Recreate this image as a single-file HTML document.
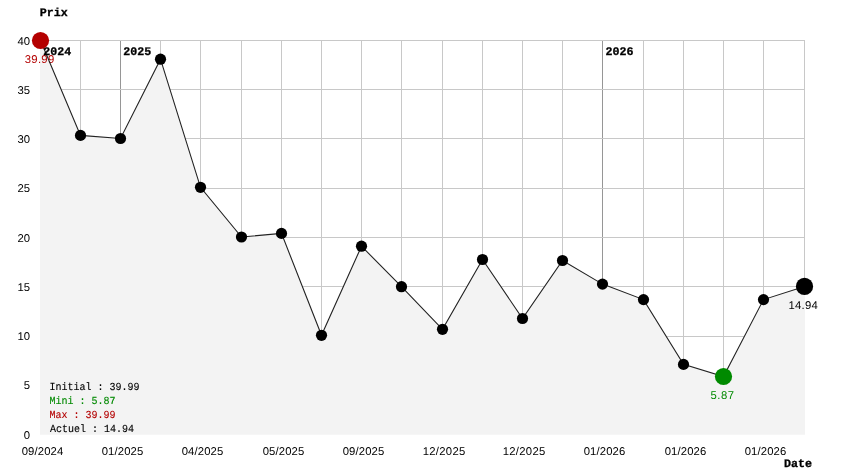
<!DOCTYPE html>
<html><head><meta charset="utf-8"><style>
html,body{margin:0;padding:0;background:#fff;}
svg{display:block;will-change:transform;}
text{font-family:"Liberation Sans",sans-serif;text-rendering:geometricPrecision;}
.ax{font-size:11.3px;fill:#000;}
.mono{font-family:"Liberation Mono",monospace;font-size:10px;}
.bold{font-family:"Liberation Mono",monospace;font-weight:bold;font-size:11.67px;stroke:#000;stroke-width:0.3px;}
</style></head><body>
<svg width="844" height="474" viewBox="0 0 844 474">

<line x1="40.5" y1="40.0" x2="40.5" y2="433.7" stroke="#c8c8c8" stroke-width="1"/>
<line x1="80.5" y1="40.0" x2="80.5" y2="433.7" stroke="#c8c8c8" stroke-width="1"/>
<line x1="120.5" y1="40.0" x2="120.5" y2="433.7" stroke="#969696" stroke-width="1"/>
<line x1="160.5" y1="40.0" x2="160.5" y2="433.7" stroke="#c8c8c8" stroke-width="1"/>
<line x1="200.5" y1="40.0" x2="200.5" y2="433.7" stroke="#c8c8c8" stroke-width="1"/>
<line x1="241.5" y1="40.0" x2="241.5" y2="433.7" stroke="#c8c8c8" stroke-width="1"/>
<line x1="281.5" y1="40.0" x2="281.5" y2="433.7" stroke="#c8c8c8" stroke-width="1"/>
<line x1="321.5" y1="40.0" x2="321.5" y2="433.7" stroke="#c8c8c8" stroke-width="1"/>
<line x1="361.5" y1="40.0" x2="361.5" y2="433.7" stroke="#c8c8c8" stroke-width="1"/>
<line x1="401.5" y1="40.0" x2="401.5" y2="433.7" stroke="#c8c8c8" stroke-width="1"/>
<line x1="442.5" y1="40.0" x2="442.5" y2="433.7" stroke="#c8c8c8" stroke-width="1"/>
<line x1="482.5" y1="40.0" x2="482.5" y2="433.7" stroke="#c8c8c8" stroke-width="1"/>
<line x1="522.5" y1="40.0" x2="522.5" y2="433.7" stroke="#c8c8c8" stroke-width="1"/>
<line x1="562.5" y1="40.0" x2="562.5" y2="433.7" stroke="#c8c8c8" stroke-width="1"/>
<line x1="602.5" y1="40.0" x2="602.5" y2="433.7" stroke="#969696" stroke-width="1"/>
<line x1="643.5" y1="40.0" x2="643.5" y2="433.7" stroke="#c8c8c8" stroke-width="1"/>
<line x1="683.5" y1="40.0" x2="683.5" y2="433.7" stroke="#c8c8c8" stroke-width="1"/>
<line x1="723.5" y1="40.0" x2="723.5" y2="433.7" stroke="#c8c8c8" stroke-width="1"/>
<line x1="763.5" y1="40.0" x2="763.5" y2="433.7" stroke="#c8c8c8" stroke-width="1"/>
<line x1="804.5" y1="40.0" x2="804.5" y2="433.7" stroke="#c8c8c8" stroke-width="1"/>
<line x1="40.0" y1="40.5" x2="805.0" y2="40.5" stroke="#c8c8c8" stroke-width="1"/>
<line x1="40.0" y1="89.5" x2="805.0" y2="89.5" stroke="#c8c8c8" stroke-width="1"/>
<line x1="40.0" y1="138.5" x2="805.0" y2="138.5" stroke="#c8c8c8" stroke-width="1"/>
<line x1="40.0" y1="188.5" x2="805.0" y2="188.5" stroke="#c8c8c8" stroke-width="1"/>
<line x1="40.0" y1="237.5" x2="805.0" y2="237.5" stroke="#c8c8c8" stroke-width="1"/>
<line x1="40.0" y1="286.5" x2="805.0" y2="286.5" stroke="#c8c8c8" stroke-width="1"/>
<line x1="40.0" y1="336.5" x2="805.0" y2="336.5" stroke="#c8c8c8" stroke-width="1"/>
<line x1="40.0" y1="385.5" x2="805.0" y2="385.5" stroke="#c8c8c8" stroke-width="1"/>

<polygon points="40,434.7 40,40.5 40.5,40.5 80.5,135.4 120.5,138.5 160.5,59.2 200.5,187.3 241.5,237.0 281.5,233.4 321.5,335.3 361.5,246.2 401.5,286.7 442.5,329.3 482.5,259.5 522.5,318.5 562.5,260.5 602.5,284.1 643.5,299.6 683.5,364.4 723.5,376.5 763.5,299.6 804.5,286.4 805,286.4 805,434.7" fill="#f3f3f3"/>
<text x="24.8" y="62.9" textLength="29.4" lengthAdjust="spacing" class="ax" style="fill:#b40000">39.99</text>
<text x="710.4" y="398.9" textLength="23.6" lengthAdjust="spacing" class="ax" style="fill:#008a00">5.87</text>
<text x="788.4" y="308.9" textLength="29.4" lengthAdjust="spacing" class="ax">14.94</text>
<polyline points="40.5,40.5 80.5,135.4 120.5,138.5 160.5,59.2 200.5,187.3 241.5,237.0 281.5,233.4 321.5,335.3 361.5,246.2 401.5,286.7 442.5,329.3 482.5,259.5 522.5,318.5 562.5,260.5 602.5,284.1 643.5,299.6 683.5,364.4 723.5,376.5 763.5,299.6 804.5,286.4" fill="none" stroke="#222" stroke-width="1.1"/>
<text transform="translate(39.7,15.9) scale(1,0.99)" class="bold">Prix</text>

<text transform="translate(784,466.9) scale(1,0.99)" class="bold">Date</text>

<text transform="translate(43.3,54.9) scale(1,0.99)" class="bold">2024</text>

<text transform="translate(123.3,54.9) scale(1,0.99)" class="bold">2025</text>

<text transform="translate(605.4,54.9) scale(1,0.99)" class="bold">2026</text>

<circle cx="40.5" cy="40.5" r="8.6" fill="#b40000"/>
<circle cx="80.5" cy="135.4" r="5.6" fill="#000"/>
<circle cx="120.5" cy="138.5" r="5.6" fill="#000"/>
<circle cx="160.5" cy="59.2" r="5.6" fill="#000"/>
<circle cx="200.5" cy="187.3" r="5.6" fill="#000"/>
<circle cx="241.5" cy="237.0" r="5.6" fill="#000"/>
<circle cx="281.5" cy="233.4" r="5.6" fill="#000"/>
<circle cx="321.5" cy="335.3" r="5.6" fill="#000"/>
<circle cx="361.5" cy="246.2" r="5.6" fill="#000"/>
<circle cx="401.5" cy="286.7" r="5.6" fill="#000"/>
<circle cx="442.5" cy="329.3" r="5.6" fill="#000"/>
<circle cx="482.5" cy="259.5" r="5.6" fill="#000"/>
<circle cx="522.5" cy="318.5" r="5.6" fill="#000"/>
<circle cx="562.5" cy="260.5" r="5.6" fill="#000"/>
<circle cx="602.5" cy="284.1" r="5.6" fill="#000"/>
<circle cx="643.5" cy="299.6" r="5.6" fill="#000"/>
<circle cx="683.5" cy="364.4" r="5.6" fill="#000"/>
<circle cx="723.5" cy="376.5" r="8.6" fill="#008a00"/>
<circle cx="763.5" cy="299.6" r="5.6" fill="#000"/>
<circle cx="804.5" cy="286.4" r="8.6" fill="#000"/>

<text x="30.0" y="44.90" text-anchor="end" class="ax">40</text>
<text x="30.0" y="93.90" text-anchor="end" class="ax">35</text>
<text x="30.0" y="142.90" text-anchor="end" class="ax">30</text>
<text x="30.0" y="191.90" text-anchor="end" class="ax">25</text>
<text x="30.0" y="241.90" text-anchor="end" class="ax">20</text>
<text x="30.0" y="290.90" text-anchor="end" class="ax">15</text>
<text x="30.0" y="339.90" text-anchor="end" class="ax">10</text>
<text x="30.0" y="388.90" text-anchor="end" class="ax">5</text>
<text x="30.0" y="438.90" text-anchor="end" class="ax">0</text>

<text x="21.70" y="455" textLength="41.6" lengthAdjust="spacing" class="ax">09/2024</text>
<text x="101.70" y="455" textLength="41.6" lengthAdjust="spacing" class="ax">01/2025</text>
<text x="181.70" y="455" textLength="41.6" lengthAdjust="spacing" class="ax">04/2025</text>
<text x="262.70" y="455" textLength="41.6" lengthAdjust="spacing" class="ax">05/2025</text>
<text x="342.70" y="455" textLength="41.6" lengthAdjust="spacing" class="ax">09/2025</text>
<text x="422.70" y="455" textLength="42.6" lengthAdjust="spacing" class="ax">12/2025</text>
<text x="502.70" y="455" textLength="42.6" lengthAdjust="spacing" class="ax">12/2025</text>
<text x="583.70" y="455" textLength="41.6" lengthAdjust="spacing" class="ax">01/2026</text>
<text x="664.70" y="455" textLength="41.6" lengthAdjust="spacing" class="ax">01/2026</text>
<text x="744.70" y="455" textLength="41.6" lengthAdjust="spacing" class="ax">01/2026</text>

<text transform="translate(49.5,389.9) scale(1,1.08)" class="mono" style="fill:#000;stroke:#000;stroke-width:0.12px">Initial : 39.99</text>

<text transform="translate(49.6,403.9) scale(1,1.08)" class="mono" style="fill:#008a00;stroke:#008a00;stroke-width:0.12px">Mini : 5.87</text>

<text transform="translate(49.6,417.9) scale(1,1.08)" class="mono" style="fill:#b40000;stroke:#b40000;stroke-width:0.12px">Max : 39.99</text>

<text transform="translate(50,431.9) scale(1,1.08)" class="mono" style="fill:#000;stroke:#000;stroke-width:0.12px">Actuel : 14.94</text>

</svg>
</body></html>
